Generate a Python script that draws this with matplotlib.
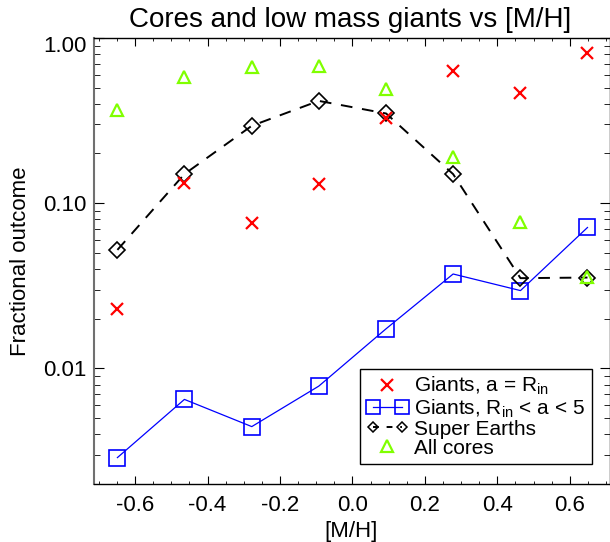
import matplotlib
matplotlib.use('Agg')
import matplotlib.pyplot as plt
import matplotlib.transforms as mtransforms
from matplotlib.lines import Line2D
from matplotlib.legend_handler import HandlerLine2D
from matplotlib.ticker import (FixedLocator, MultipleLocator, LogLocator,
                               FormatStrFormatter, NullFormatter)

plt.rcParams['font.family'] = ['Liberation Sans', 'DejaVu Sans']
plt.rcParams['mathtext.fontset'] = 'custom'
plt.rcParams['mathtext.rm'] = 'Liberation Sans'
plt.rcParams['mathtext.it'] = 'Liberation Sans:italic'

# metallicity bin centres
feh = [-0.649, -0.464, -0.278, -0.093, 0.093, 0.278, 0.464, 0.649]
# fractional outcomes per bin
giants_rin = [0.0230, 0.133, 0.0757, 0.131, 0.330, 0.631, 0.465, 0.811]
giants_mid = [0.00289, 0.0065, 0.00445, 0.00782, 0.0174, 0.0373, 0.0296, 0.0713]
super_earths = [0.0522, 0.150, 0.294, 0.416, 0.349, 0.150, 0.0352, 0.0355]
all_cores = [0.367, 0.578, 0.671, 0.676, 0.488, 0.190, 0.0774, 0.0357]

xticks = [-0.6, -0.4, -0.2, 0.0, 0.2, 0.4, 0.6]
yticks = [0.01, 0.1, 1.0]

green = '#80FF00'

fig = plt.figure(figsize=(6.10, 5.42), dpi=100)
ax = fig.add_axes([0.1533, 0.107, 0.846, 0.823])

ax.plot(feh, giants_mid, color='blue', lw=0.9, marker='s', ms=11,
        mfc='none', mec='blue', mew=1.2)
ax.plot(feh, super_earths, color='black', lw=1.4, ls=(0, (6, 5)),
        marker='D', ms=8.0, mfc='none', mec='black', mew=1.2)
ax.plot(feh, giants_rin, ls='none', marker='x', color='red', ms=8, mew=1.6)
ax.plot(feh, all_cores, ls='none', marker='^', color=green, mfc='none',
        ms=9.2, mew=1.6)

ax.set_yscale('log')
ax.set_xlim(-0.715, 0.71)
ax.set_ylim(0.002, 1.0)

ax.xaxis.set_major_locator(FixedLocator(xticks))
ax.xaxis.set_major_formatter(FormatStrFormatter('%.1f'))
ax.xaxis.set_minor_locator(MultipleLocator(0.05))
ax.yaxis.set_major_locator(FixedLocator(yticks))
ax.yaxis.set_major_formatter(FormatStrFormatter('%.2f'))
ax.yaxis.set_minor_locator(LogLocator(base=10, subs=[2, 3, 4, 5, 6, 7, 8, 9]))
ax.yaxis.set_minor_formatter(NullFormatter())

ax.tick_params(which='both', direction='in', top=True, right=True,
               labelsize=16, colors='black')
ax.tick_params(axis='x', which='major', length=5.8, pad=8)
ax.tick_params(axis='x', which='minor', length=2.5)
ax.tick_params(axis='y', which='major', length=7.2, pad=5)
ax.tick_params(axis='y', which='minor', length=4.0)
for side in ['top', 'right', 'bottom']:
    ax.spines[side].set_linewidth(1.0)
ax.spines['left'].set_linewidth(1.5)
ax.spines['left'].set_color('#707070')

# IDL nudges the top label down inside the box
top_tick = ax.yaxis.get_major_ticks()[2]
top_tick.label1.set_transform(top_tick.label1.get_transform() +
                              mtransforms.ScaledTranslation(0, -6 / 100, fig.dpi_scale_trans))

ax.set_xlabel('[M/H]', fontsize=16)
ax.xaxis.set_label_coords(0.5, -0.082)
ax.set_ylabel('Fractional outcome', fontsize=16)
ax.yaxis.set_label_coords(-0.122, 0.5)

fig.text(0.5746, 1 - 20 / 542, 'Cores and low mass giants vs [M/H]',
         ha='center', va='center', fontsize=20)

h1 = Line2D([], [], ls='none', marker='x', color='red', ms=8, mew=1.6)
h2 = Line2D([], [], color='blue', lw=0.9, marker='s', ms=10, mfc='none', mew=1.2)
h3 = Line2D([], [], color='black', lw=1.4, ls=(0, (3, 4)), marker='D', ms=5.5,
            mfc='none', mew=1.1)
h4 = Line2D([], [], ls='none', marker='^', color=green, mfc='none', ms=9.2, mew=1.6)
leg = ax.legend([h1, h2, h3, h4],
                ['Giants, a = R$_{\\rm in}$', 'Giants, R$_{\\rm in}$ < a < 5',
                 'Super Earths', 'All cores'],
                loc='lower right', bbox_to_anchor=(0.9655, 0.0448),
                borderaxespad=0, fontsize=15, numpoints=2, handlelength=2.0,
                handletextpad=0.3, labelspacing=0.0, borderpad=0.3,
                fancybox=False, framealpha=1, edgecolor='black',
                handler_map={h1: HandlerLine2D(numpoints=1),
                             h4: HandlerLine2D(numpoints=1)})
leg.get_frame().set_linewidth(1.0)

fig.savefig('out.png', dpi=100)
